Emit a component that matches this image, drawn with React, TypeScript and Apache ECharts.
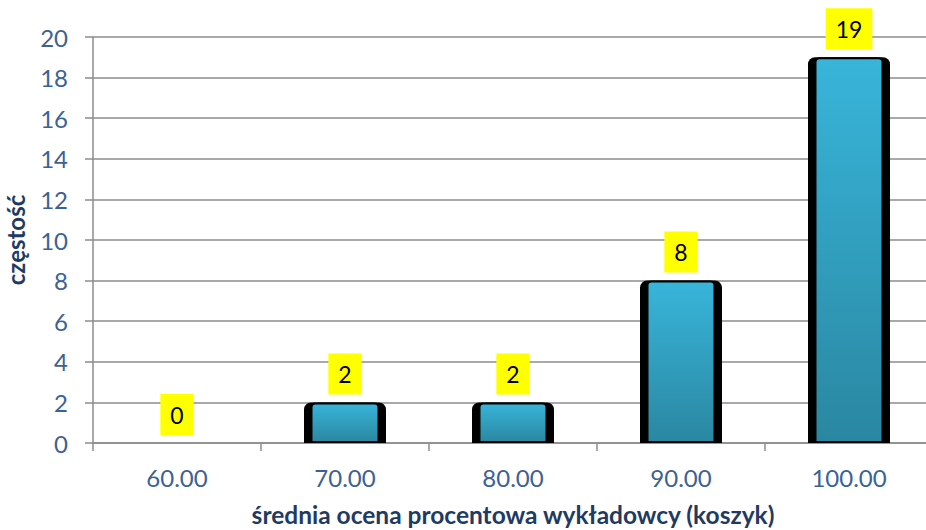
import React, { useEffect, useRef } from "react";
import * as echarts from "echarts";

const categories = ["60.00", "70.00", "80.00", "90.00", "100.00"];
const frequencies = [0, 2, 2, 8, 19];
const yTicks = { min: 0, max: 20, interval: 2 };
const yAxisName = "częstość";
const xAxisName = "średnia ocena procentowa wykładowcy (koszyk)";

const FONT = "Lato, 'Open Sans', sans-serif";
const LABEL_COLOR = "#3b6294";
const NAME_COLOR = "#1f3a63";
const GRID_COLOR = "#8c8c8c";

export default function App() {
  const ref = useRef<HTMLDivElement>(null);
  useEffect(() => {
    if (!ref.current) return;
    const chart = echarts.init(ref.current, undefined, { renderer: "svg" });
    const hideZero = (v: number, style: any) => (v === 0 ? { value: v, itemStyle: style } : v);
    chart.setOption({
      animation: false,
      backgroundColor: "#ffffff",
      grid: {
        left: 93,
        top: 37,
        width: 840,
        height: 406,
        containLabel: false,
        outerBoundsMode: "none",
      },
      xAxis: [
        {
          type: "category",
          data: categories,
          boundaryGap: true,
          axisLine: { show: true, lineStyle: { color: GRID_COLOR, width: 1.5 } },
          axisTick: { show: true, length: 8, alignWithLabel: false, lineStyle: { color: GRID_COLOR, width: 1.5 } },
          axisLabel: { color: LABEL_COLOR, fontSize: 24, fontFamily: FONT, margin: 22 },
          name: xAxisName,
          nameLocation: "middle",
          nameGap: 59,
          nameTextStyle: { color: NAME_COLOR, fontSize: 24.5, fontWeight: "bold", fontFamily: FONT },
          splitLine: { show: false },
        },
        {
          type: "category",
          data: categories,
          show: false,
        },
      ],
      yAxis: {
        type: "value",
        min: yTicks.min,
        max: yTicks.max,
        interval: yTicks.interval,
        axisLine: { show: true, lineStyle: { color: GRID_COLOR, width: 1.5 } },
        axisTick: { show: true, length: 8, lineStyle: { color: GRID_COLOR, width: 1.5 } },
        axisLabel: { color: LABEL_COLOR, fontSize: 24, fontFamily: FONT, margin: 25 },
        splitLine: { show: true, lineStyle: { color: GRID_COLOR, width: 1.5 } },
        name: yAxisName,
        nameLocation: "middle",
        nameRotate: 90,
        nameGap: 66,
        nameTextStyle: { color: NAME_COLOR, fontSize: 24, fontWeight: "bold", fontFamily: FONT },
      },
      series: [
        {
          type: "bar",
          xAxisIndex: 0,
          data: frequencies.map((v) => hideZero(v, { color: "rgba(0,0,0,0)" })),
          barWidth: 82,
          z: 2,
          itemStyle: { color: "#000000", borderRadius: [7, 7, 0, 0] },
          label: {
            show: true,
            position: "top",
            distance: 8,
            color: "#000000",
            fontSize: 23,
            fontFamily: FONT,
            backgroundColor: "#ffff00",
            padding: [9, 10, 9, 10],
          },
        },
        {
          type: "bar",
          xAxisIndex: 1,
          data: frequencies.map((v) => hideZero(v, { color: "rgba(0,0,0,0)", borderWidth: 0 })),
          barWidth: 69,
          z: 3,
          itemStyle: {
            color: new echarts.graphic.LinearGradient(0, 0, 0, 1, [
              { offset: 0, color: "#38b5da" },
              { offset: 1, color: "#2a87a1" },
            ]),
            borderColor: "#000000",
            borderWidth: 2,
            borderRadius: [4, 4, 0, 0],
          },
          label: { show: false },
        },
      ],
    });
    return () => chart.dispose();
  }, []);
  return (
    <div
      ref={ref}
      style={{ width: 926, height: 530, position: "absolute", left: 0, top: 0 }}
    />
  );
}
